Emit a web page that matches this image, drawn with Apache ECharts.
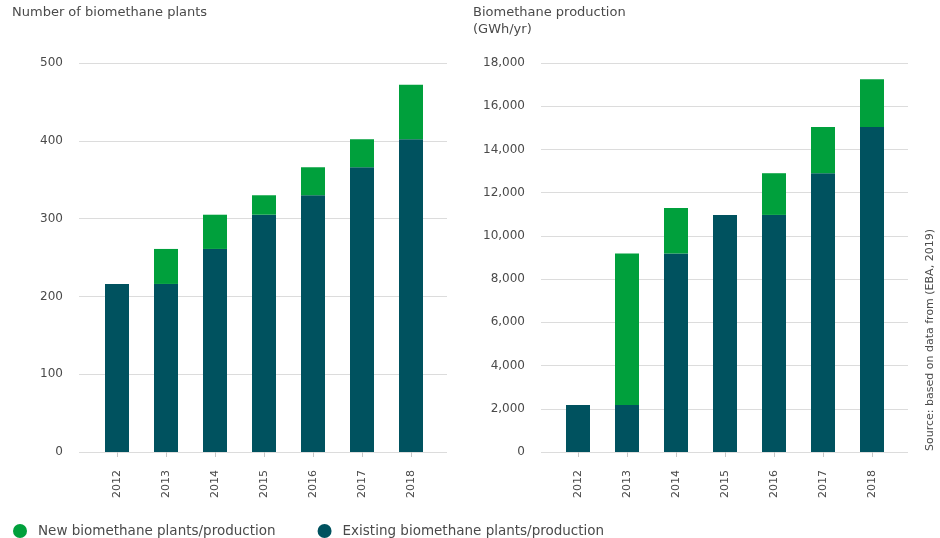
<!DOCTYPE html>
<html>
<head>
<meta charset="utf-8">
<script src="https://cdn.jsdelivr.net/npm/echarts@6/dist/echarts.min.js"></script>
<style>
  html, body { margin: 0; padding: 0; background: #fff; }
  #chart { width: 940px; height: 538px; }
</style>
</head>
<body>
<div id="chart"></div>
<script>
// ---- data ----
const years = ['2012', '2013', '2014', '2015', '2016', '2017', '2018'];
const plantsExisting = [216, 216, 261, 305, 330, 366, 402];
const plantsNew      = [0, 45, 44, 25, 36, 36, 70];
const prodExisting   = [2170, 2170, 9190, 10970, 10970, 12900, 15040];
const prodNew        = [0, 7020, 2100, 0, 1930, 2140, 2210];

const nameNew = 'New biomethane plants/production';
const nameExisting = 'Existing biomethane plants/production';
const titleLeft = 'Number of biomethane plants';
const titleRight = 'Biomethane production\n(GWh/yr)';
const sourceText = 'Source: based on data from (EBA, 2019)';

const GREEN = '#00a03c';
const TEAL = '#00525f';
const FONT = 'DejaVu Sans';
const TXT = '#4a4a4a';
const GRID = '#dcdcdc';

const chart = echarts.init(document.getElementById('chart'));

function gridAxes(min, max, interval, gridIdx) {
  return {
    y: [
      { type: 'value', gridIndex: gridIdx, min: min, max: max, interval: interval,
        axisLine: { show: false }, axisTick: { show: false },
        splitLine: { lineStyle: { color: GRID, width: 1 } },
        axisLabel: { margin: 16, color: TXT, fontFamily: FONT, fontSize: 12,
          formatter: v => v.toLocaleString('en-US') } },
      { type: 'value', gridIndex: gridIdx + 1, min: min, max: max, interval: interval,
        show: false, splitLine: { show: false } }
    ],
    x: [
      { type: 'category', gridIndex: gridIdx, data: years, show: false },
      { type: 'category', gridIndex: gridIdx + 1, data: years,
        axisLine: { show: false },
        axisTick: { show: true, alignWithLabel: true, length: 5, lineStyle: { color: '#c8c8c8' } },
        axisLabel: { rotate: 90, margin: 18, color: TXT, fontFamily: FONT, fontSize: 11 } }
    ]
  };
}

const L = gridAxes(0, 500, 100, 0);
const R = gridAxes(0, 18000, 2000, 2);

const barW = 24;

const option = {
  animation: false,
  backgroundColor: '#fff',
  grid: [
    { left: 79, width: 368, top: 63, height: 389 },
    { left: 92.5, width: 343, top: 63, height: 389 },
    { left: 541, width: 367, top: 63, height: 389 },
    { left: 553.5, width: 343, top: 63, height: 389 }
  ],
  xAxis: [].concat(L.x, R.x),
  yAxis: [].concat(L.y, R.y),
  legend: {
    left: 8, top: 519,
    data: [nameNew, nameExisting],
    icon: 'circle', itemWidth: 14, itemHeight: 14, itemGap: 42,
    textStyle: { color: TXT, fontFamily: FONT, fontSize: 13.5, padding: [0, 0, 0, 6] }
  },
  graphic: [
    { type: 'text', left: 12, top: 6,
      style: { text: titleLeft, fill: TXT, font: '13px "' + FONT + '"' } },
    { type: 'text', left: 473, top: 4,
      style: { text: titleRight, fill: TXT, font: '13px "' + FONT + '"', lineHeight: 17 } },
    { type: 'text', x: 930, y: 340, rotation: Math.PI / 2,
      style: { text: sourceText, fill: TXT, font: '11px "' + FONT + '"',
        align: 'center', verticalAlign: 'middle' } }
  ],
  series: [
    { name: nameExisting, type: 'bar', stack: 'a', xAxisIndex: 1, yAxisIndex: 1,
      barWidth: barW, itemStyle: { color: TEAL }, data: plantsExisting },
    { name: nameNew, type: 'bar', stack: 'a', xAxisIndex: 1, yAxisIndex: 1,
      barWidth: barW, itemStyle: { color: GREEN }, data: plantsNew },
    { name: nameExisting, type: 'bar', stack: 'b', xAxisIndex: 3, yAxisIndex: 3,
      barWidth: barW, itemStyle: { color: TEAL }, data: prodExisting },
    { name: nameNew, type: 'bar', stack: 'b', xAxisIndex: 3, yAxisIndex: 3,
      barWidth: barW, itemStyle: { color: GREEN }, data: prodNew }
  ]
};

chart.setOption(option);
</script>
</body>
</html>
